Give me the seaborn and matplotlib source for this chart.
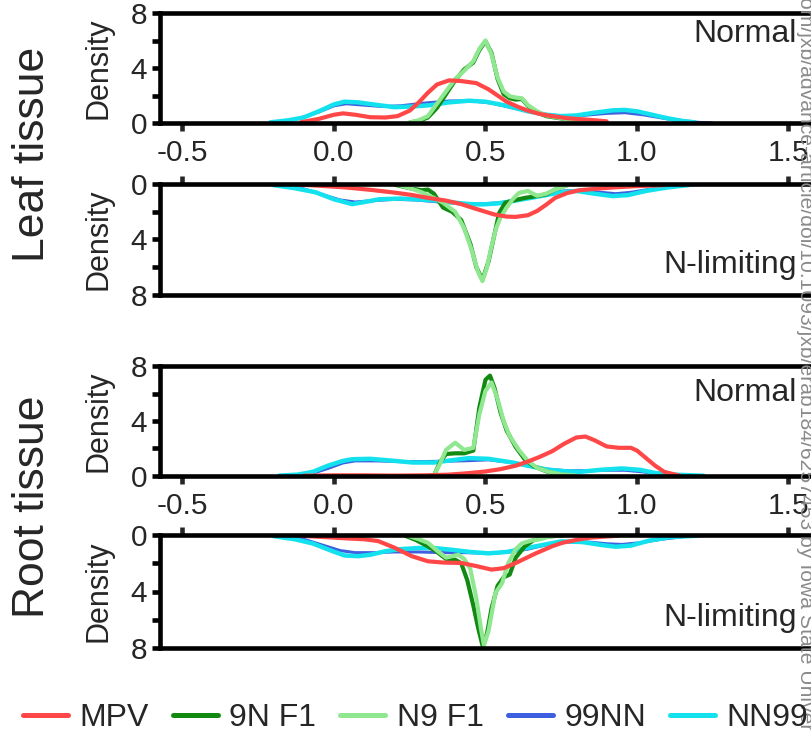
import numpy as np
import pandas as pd
import matplotlib
matplotlib.use("Agg")
import matplotlib.pyplot as plt
from matplotlib.lines import Line2D
from matplotlib.ticker import FixedLocator
import seaborn as sns

sns.set_theme(style="white")
plt.rcParams["font.family"] = ["Liberation Sans", "DejaVu Sans"]

# ---------------- series definitions ----------------
series = ["MPV", "9N F1", "N9 F1", "99NN", "NN99"]
colors = {"MPV": "#ff4747", "9N F1": "#128a12", "N9 F1": "#8fe88f",
          "99NN": "#3d5fe0", "NN99": "#14e1ee"}
widths = {"MPV": 3.0, "9N F1": 3.0, "N9 F1": 3.0, "99NN": 2.2, "NN99": 3.2}
draw_order = ["99NN", "NN99", "9N F1", "N9 F1", "MPV"]

# ---------------- leaf tissue, normal N ----------------
leaf_normal_mpv_x = [-0.11, -0.05, 0.0, 0.03, 0.07, 0.12, 0.17, 0.21, 0.25, 0.28, 0.31, 0.34, 0.38,
                     0.42, 0.47, 0.51, 0.54, 0.57, 0.61, 0.64, 0.68, 0.72, 0.77, 0.82, 0.86, 0.90]
leaf_normal_mpv_y = [0.05, 0.3, 0.6, 0.7, 0.6, 0.42, 0.4, 0.5, 0.9, 1.5, 2.2, 2.8, 3.1,
                     3.05, 2.9, 2.45, 2.0, 1.55, 1.15, 0.9, 0.65, 0.5, 0.35, 0.27, 0.2, 0.12]
leaf_normal_9n_x = [0.25, 0.28, 0.31, 0.34, 0.37, 0.40, 0.43, 0.46, 0.48, 0.50, 0.52,
                    0.54, 0.56, 0.58, 0.60, 0.62, 0.64, 0.67, 0.70, 0.75, 0.80, 0.84]
leaf_normal_9n_y = [0.03, 0.15, 0.4, 1.1, 2.1, 3.1, 3.9, 4.4, 5.3, 5.95, 5.1,
                    3.2, 2.1, 1.8, 1.7, 1.75, 1.25, 0.8, 0.5, 0.33, 0.15, 0.05]
leaf_normal_n9_x = [0.25, 0.28, 0.31, 0.34, 0.37, 0.40, 0.43, 0.46, 0.48, 0.50, 0.52,
                    0.54, 0.56, 0.58, 0.60, 0.62, 0.64, 0.67, 0.70, 0.75, 0.80, 0.84]
leaf_normal_n9_y = [0.05, 0.2, 0.5, 1.4, 2.3, 3.2, 3.8, 4.5, 5.4, 6.0, 5.0,
                    3.3, 2.3, 1.95, 1.85, 1.8, 1.3, 0.85, 0.55, 0.35, 0.15, 0.05]
leaf_normal_99nn_x = [-0.2, -0.12, -0.05, 0.0, 0.04, 0.1, 0.16, 0.22, 0.3, 0.38, 0.45,
                      0.52, 0.6, 0.68, 0.75, 0.82, 0.9, 0.96, 1.02, 1.1, 1.2, 1.25]
leaf_normal_99nn_y = [0.02, 0.3, 0.8, 1.25, 1.4, 1.3, 1.2, 1.25, 1.45, 1.6, 1.62,
                      1.45, 1.05, 0.68, 0.5, 0.55, 0.7, 0.75, 0.6, 0.3, 0.05, 0.0]
leaf_normal_nn99_x = [-0.21, -0.15, -0.1, -0.05, 0.0, 0.035, 0.08, 0.13, 0.2, 0.26, 0.32, 0.38, 0.445,
                      0.5, 0.56, 0.64, 0.7, 0.75, 0.8, 0.86, 0.92, 0.96, 1.0, 1.05, 1.1, 1.15, 1.19]
leaf_normal_nn99_y = [0.05, 0.2, 0.4, 0.85, 1.35, 1.55, 1.5, 1.35, 1.15, 1.2, 1.3, 1.5, 1.62,
                      1.55, 1.3, 0.85, 0.6, 0.5, 0.55, 0.75, 0.92, 0.95, 0.85, 0.6, 0.35, 0.15, 0.05]

# ---------------- leaf tissue, N-limiting ----------------
leaf_nlim_mpv_x = [-0.11, -0.03, 0.04, 0.12, 0.2, 0.26, 0.31, 0.37, 0.42, 0.47, 0.53, 0.57,
                   0.6, 0.64, 0.67, 0.7, 0.73, 0.77, 0.81, 0.86, 0.92, 1.0, 1.09]
leaf_nlim_mpv_y = [0.05, 0.15, 0.25, 0.42, 0.62, 0.8, 1.0, 1.2, 1.45, 1.8, 2.2, 2.35,
                   2.37, 2.25, 1.95, 1.5, 1.0, 0.65, 0.45, 0.35, 0.25, 0.15, 0.08]
leaf_nlim_9n_x = [0.2, 0.25, 0.29, 0.31, 0.33, 0.36, 0.39, 0.42, 0.45, 0.47, 0.49,
                  0.51, 0.53, 0.545, 0.565, 0.6, 0.63, 0.67, 0.7, 0.73, 0.77]
leaf_nlim_9n_y = [0.05, 0.3, 0.45, 0.4, 0.7, 1.7, 2.0, 2.6, 4.3, 6.0, 6.9,
                  5.6, 3.6, 2.1, 1.35, 1.15, 1.0, 0.87, 0.75, 0.4, 0.08]
leaf_nlim_n9_x = [0.21, 0.25, 0.29, 0.33, 0.36, 0.40, 0.43, 0.455, 0.475, 0.49, 0.505,
                  0.52, 0.535, 0.55, 0.57, 0.59, 0.61, 0.64, 0.67, 0.7, 0.73, 0.77]
leaf_nlim_n9_y = [0.05, 0.3, 0.6, 1.0, 1.35, 2.0, 3.2, 4.8, 6.3, 7.0, 6.0,
                  4.5, 3.2, 2.4, 1.7, 1.1, 0.65, 0.5, 0.85, 0.7, 0.4, 0.08]
leaf_nlim_99nn_x = [-0.18, -0.1, -0.04, 0.02, 0.07, 0.13, 0.2, 0.27, 0.35, 0.42, 0.48,
                    0.55, 0.62, 0.7, 0.76, 0.82, 0.88, 0.93, 0.98, 1.05, 1.13, 1.22]
leaf_nlim_99nn_y = [0.05, 0.35, 0.75, 1.15, 1.3, 1.2, 1.1, 1.15, 1.3, 1.4, 1.45,
                    1.35, 1.1, 0.75, 0.5, 0.45, 0.6, 0.7, 0.6, 0.35, 0.12, 0.03]
leaf_nlim_nn99_x = [-0.2, -0.13, -0.06, 0.0, 0.06, 0.1, 0.15, 0.22, 0.27, 0.34, 0.4, 0.45, 0.49,
                    0.54, 0.59, 0.65, 0.7, 0.75, 0.8, 0.86, 0.92, 0.97, 1.03, 1.1, 1.17]
leaf_nlim_nn99_y = [0.08, 0.3, 0.6, 1.1, 1.45, 1.3, 1.1, 1.05, 1.1, 1.2, 1.35, 1.45, 1.47,
                    1.4, 1.23, 1.0, 0.8, 0.6, 0.5, 0.7, 0.87, 0.8, 0.5, 0.25, 0.08]

# ---------------- root tissue, normal N ----------------
root_normal_mpv_x = [-0.1, 0.0, 0.1, 0.2, 0.3, 0.38, 0.44, 0.5, 0.55, 0.6, 0.64, 0.68, 0.72,
                     0.76, 0.8, 0.83, 0.86, 0.9, 0.94, 0.98, 1.0, 1.03, 1.06, 1.09, 1.14]
root_normal_mpv_y = [0.02, 0.05, 0.05, 0.03, 0.05, 0.1, 0.2, 0.33, 0.5, 0.75, 1.05, 1.4, 1.8,
                     2.35, 2.8, 2.87, 2.6, 2.15, 2.05, 2.05, 1.85, 1.3, 0.75, 0.3, 0.03]
root_normal_9n_x = [0.33, 0.35, 0.37, 0.40, 0.43, 0.46, 0.48, 0.50, 0.515, 0.53, 0.55,
                    0.57, 0.6, 0.63, 0.66, 0.7, 0.74, 0.78]
root_normal_9n_y = [0.03, 1.0, 1.6, 1.65, 1.65, 1.85, 5.0, 7.0, 7.3, 6.4, 4.6,
                    3.3, 2.1, 1.2, 0.7, 0.35, 0.12, 0.02]
root_normal_n9_x = [0.33, 0.35, 0.37, 0.40, 0.43, 0.46, 0.48, 0.50, 0.52, 0.54, 0.56,
                    0.58, 0.61, 0.64, 0.67, 0.71, 0.75, 0.80]
root_normal_n9_y = [0.03, 0.9, 1.9, 2.42, 1.9, 2.05, 4.5, 6.2, 6.8, 5.6, 4.0,
                    2.9, 1.9, 1.1, 0.6, 0.3, 0.12, 0.03]
root_normal_99nn_x = [-0.13, -0.07, -0.02, 0.03, 0.07, 0.14, 0.22, 0.3, 0.38, 0.45, 0.51,
                      0.58, 0.64, 0.7, 0.77, 0.84, 0.9, 0.96, 1.02, 1.08, 1.14]
root_normal_99nn_y = [0.02, 0.2, 0.55, 0.95, 1.1, 1.1, 1.05, 1.05, 1.08, 1.12, 1.18,
                      1.0, 0.8, 0.5, 0.38, 0.38, 0.42, 0.42, 0.3, 0.1, 0.02]
root_normal_nn99_x = [-0.18, -0.12, -0.07, -0.02, 0.03, 0.06, 0.12, 0.2, 0.26, 0.33, 0.39, 0.445,
                      0.51, 0.59, 0.65, 0.7, 0.76, 0.81, 0.88, 0.95, 1.01, 1.06, 1.12, 1.22]
root_normal_nn99_y = [0.03, 0.1, 0.3, 0.75, 1.1, 1.22, 1.25, 1.1, 0.98, 0.98, 1.15, 1.3,
                      1.25, 0.98, 0.7, 0.48, 0.35, 0.3, 0.45, 0.55, 0.45, 0.22, 0.1, 0.02]

# ---------------- root tissue, N-limiting ----------------
root_nlim_mpv_x = [-0.11, -0.03, 0.05, 0.1, 0.146, 0.2, 0.257, 0.31, 0.36, 0.42, 0.47,
                   0.52, 0.56, 0.6, 0.666, 0.72, 0.754, 0.8, 0.84, 0.89, 0.94]
root_nlim_mpv_y = [0.05, 0.15, 0.25, 0.3, 0.43, 0.9, 1.5, 1.86, 1.95, 1.98, 2.2,
                   2.45, 2.35, 1.98, 1.3, 0.8, 0.55, 0.35, 0.2, 0.12, 0.05]
root_nlim_9n_x = [0.235, 0.27, 0.31, 0.34, 0.37, 0.40, 0.42, 0.44, 0.46, 0.475, 0.49,
                  0.505, 0.52, 0.54, 0.56, 0.58, 0.6, 0.63, 0.66, 0.7, 0.76]
root_nlim_9n_y = [0.05, 0.35, 0.8, 1.2, 1.7, 1.75, 2.0, 3.2, 5.0, 6.5, 7.8,
                  7.0, 5.2, 3.6, 3.0, 2.8, 1.6, 0.8, 0.35, 0.12, 0.02]
root_nlim_n9_x = [0.245, 0.28, 0.31, 0.34, 0.37, 0.39, 0.41, 0.43, 0.45, 0.47, 0.485, 0.495,
                  0.51, 0.533, 0.555, 0.575, 0.6, 0.62, 0.65, 0.68, 0.71, 0.745]
root_nlim_n9_y = [0.05, 0.3, 0.55, 1.1, 1.6, 1.5, 1.4, 1.7, 2.4, 4.5, 6.6, 7.8,
                  6.8, 4.1, 3.4, 2.0, 1.0, 0.6, 0.4, 0.3, 0.12, 0.03]
root_nlim_99nn_x = [-0.16, -0.1, -0.04, 0.02, 0.07, 0.13, 0.2, 0.28, 0.36, 0.44, 0.52,
                    0.58, 0.64, 0.7, 0.77, 0.84, 0.9, 0.95, 1.01, 1.08, 1.16, 1.25]
root_nlim_99nn_y = [0.05, 0.3, 0.7, 1.1, 1.25, 1.25, 1.2, 1.2, 1.25, 1.25, 1.3,
                    1.2, 1.0, 0.7, 0.5, 0.5, 0.62, 0.67, 0.55, 0.3, 0.1, 0.02]
root_nlim_nn99_x = [-0.2, -0.13, -0.07, -0.01, 0.035, 0.08, 0.12, 0.17, 0.22, 0.28, 0.33, 0.39, 0.45,
                    0.51, 0.57, 0.63, 0.69, 0.75, 0.82, 0.88, 0.93, 0.98, 1.04, 1.11, 1.2]
root_nlim_nn99_y = [0.08, 0.3, 0.6, 1.1, 1.45, 1.5, 1.4, 1.15, 1.0, 0.92, 0.92, 1.05, 1.2,
                    1.3, 1.2, 0.95, 0.7, 0.45, 0.5, 0.7, 0.83, 0.75, 0.4, 0.15, 0.05]

x_ticks = [-0.5, 0.0, 0.5, 1.0, 1.5]
x_tick_labels = ["-0.5", "0.0", "0.5", "1.0", "1.5"]
y_major = [0, 4, 8]
y_minor = [2, 6]

panels = [
    {"name": "Normal", "inverted": False,
     "curves": {"MPV": (leaf_normal_mpv_x, leaf_normal_mpv_y),
                "9N F1": (leaf_normal_9n_x, leaf_normal_9n_y),
                "N9 F1": (leaf_normal_n9_x, leaf_normal_n9_y),
                "99NN": (leaf_normal_99nn_x, leaf_normal_99nn_y),
                "NN99": (leaf_normal_nn99_x, leaf_normal_nn99_y)}},
    {"name": "N-limiting", "inverted": True,
     "curves": {"MPV": (leaf_nlim_mpv_x, leaf_nlim_mpv_y),
                "9N F1": (leaf_nlim_9n_x, leaf_nlim_9n_y),
                "N9 F1": (leaf_nlim_n9_x, leaf_nlim_n9_y),
                "99NN": (leaf_nlim_99nn_x, leaf_nlim_99nn_y),
                "NN99": (leaf_nlim_nn99_x, leaf_nlim_nn99_y)}},
    {"name": "Normal", "inverted": False,
     "curves": {"MPV": (root_normal_mpv_x, root_normal_mpv_y),
                "9N F1": (root_normal_9n_x, root_normal_9n_y),
                "N9 F1": (root_normal_n9_x, root_normal_n9_y),
                "99NN": (root_normal_99nn_x, root_normal_99nn_y),
                "NN99": (root_normal_nn99_x, root_normal_nn99_y)}},
    {"name": "N-limiting", "inverted": True,
     "curves": {"MPV": (root_nlim_mpv_x, root_nlim_mpv_y),
                "9N F1": (root_nlim_9n_x, root_nlim_9n_y),
                "N9 F1": (root_nlim_n9_x, root_nlim_n9_y),
                "99NN": (root_nlim_99nn_x, root_nlim_99nn_y),
                "NN99": (root_nlim_nn99_x, root_nlim_nn99_y)}},
]

# ---------------- figure layout (pixel geometry) ----------------
W, H = 812, 732
fig = plt.figure(figsize=(W / 100, H / 100), dpi=100)
left_px, right_px = 160, 830
boxes = [(13, 123), (184, 295), (366, 476), (535, 648)]
label_y = [0.81, 0.27, 0.755, 0.265]

spine_w = 3.3
for i, (panel, (top, bot)) in enumerate(zip(panels, boxes)):
    ax = fig.add_axes([left_px / W, 1 - bot / H, (right_px - left_px) / W, (bot - top) / H])
    ax.set_facecolor("white")
    for s in draw_order:
        xs, ys = panel["curves"][s]
        df = pd.DataFrame({"x": xs, "density": ys})
        sns.lineplot(data=df, x="x", y="density", ax=ax, color=colors[s],
                     lw=widths[s], solid_capstyle="round", solid_joinstyle="round",
                     legend=False, estimator=None, sort=False)
    ax.set_xlim(-0.574, 1.637)
    if panel["inverted"]:
        ax.set_ylim(8, 0)
    else:
        ax.set_ylim(0, 8)
    for sp in ax.spines.values():
        sp.set_visible(True)
        sp.set_color("black")
        sp.set_linewidth(spine_w)
    ax.yaxis.set_major_locator(FixedLocator(y_major))
    ax.yaxis.set_minor_locator(FixedLocator(y_minor))
    ax.set_yticklabels([str(v) for v in y_major])
    ax.tick_params(axis="y", which="both", left=True, length=5.8, width=spine_w,
                   direction="out", color="black", labelsize=21.5, pad=3.5)
    ax.set_xticks(x_ticks)
    if panel["inverted"]:
        ax.tick_params(axis="x", which="both", bottom=False, top=True, labelbottom=False,
                       labeltop=False, length=5.8, width=spine_w, direction="out")
    else:
        ax.set_xticklabels(x_tick_labels)
        ax.tick_params(axis="x", which="both", bottom=True, top=False, labelbottom=True,
                       length=5.8, width=spine_w, direction="out", labelsize=21.5, pad=6)
    ax.set_xlabel("")
    ax.set_ylabel("Density", fontsize=22)
    ax.yaxis.set_label_coords(-0.069, 0.5)
    ax.text((797 - left_px) / (right_px - left_px), label_y[i], panel["name"],
            transform=ax.transAxes, ha="right", va="center", fontsize=23)

fig.text(33 / W, 1 - 154 / H, "Leaf tissue", rotation=90, ha="center", va="center", fontsize=32)
fig.text(33 / W, 1 - 507 / H, "Root tissue", rotation=90, ha="center", va="center", fontsize=32)

handles = [Line2D([0], [0], color=colors[s], lw=3.6) for s in series]
fig.legend(handles, series, loc="center left", bbox_to_anchor=(23 / W, 14 / H),
           ncol=5, frameon=False, fontsize=23, handlelength=1.4, handletextpad=0.37,
           columnspacing=0.75, borderpad=0, borderaxespad=0)

fig.text(805 / W, 1.004,
         "om/jxb/advance-article/doi/10.1093/jxb/erab184/6257453 by Iowa State Univer",
         rotation=270, ha="center", va="top", color="#8a8a8a", fontsize=15.2)

fig.savefig("out.png", dpi=100, facecolor="white")
